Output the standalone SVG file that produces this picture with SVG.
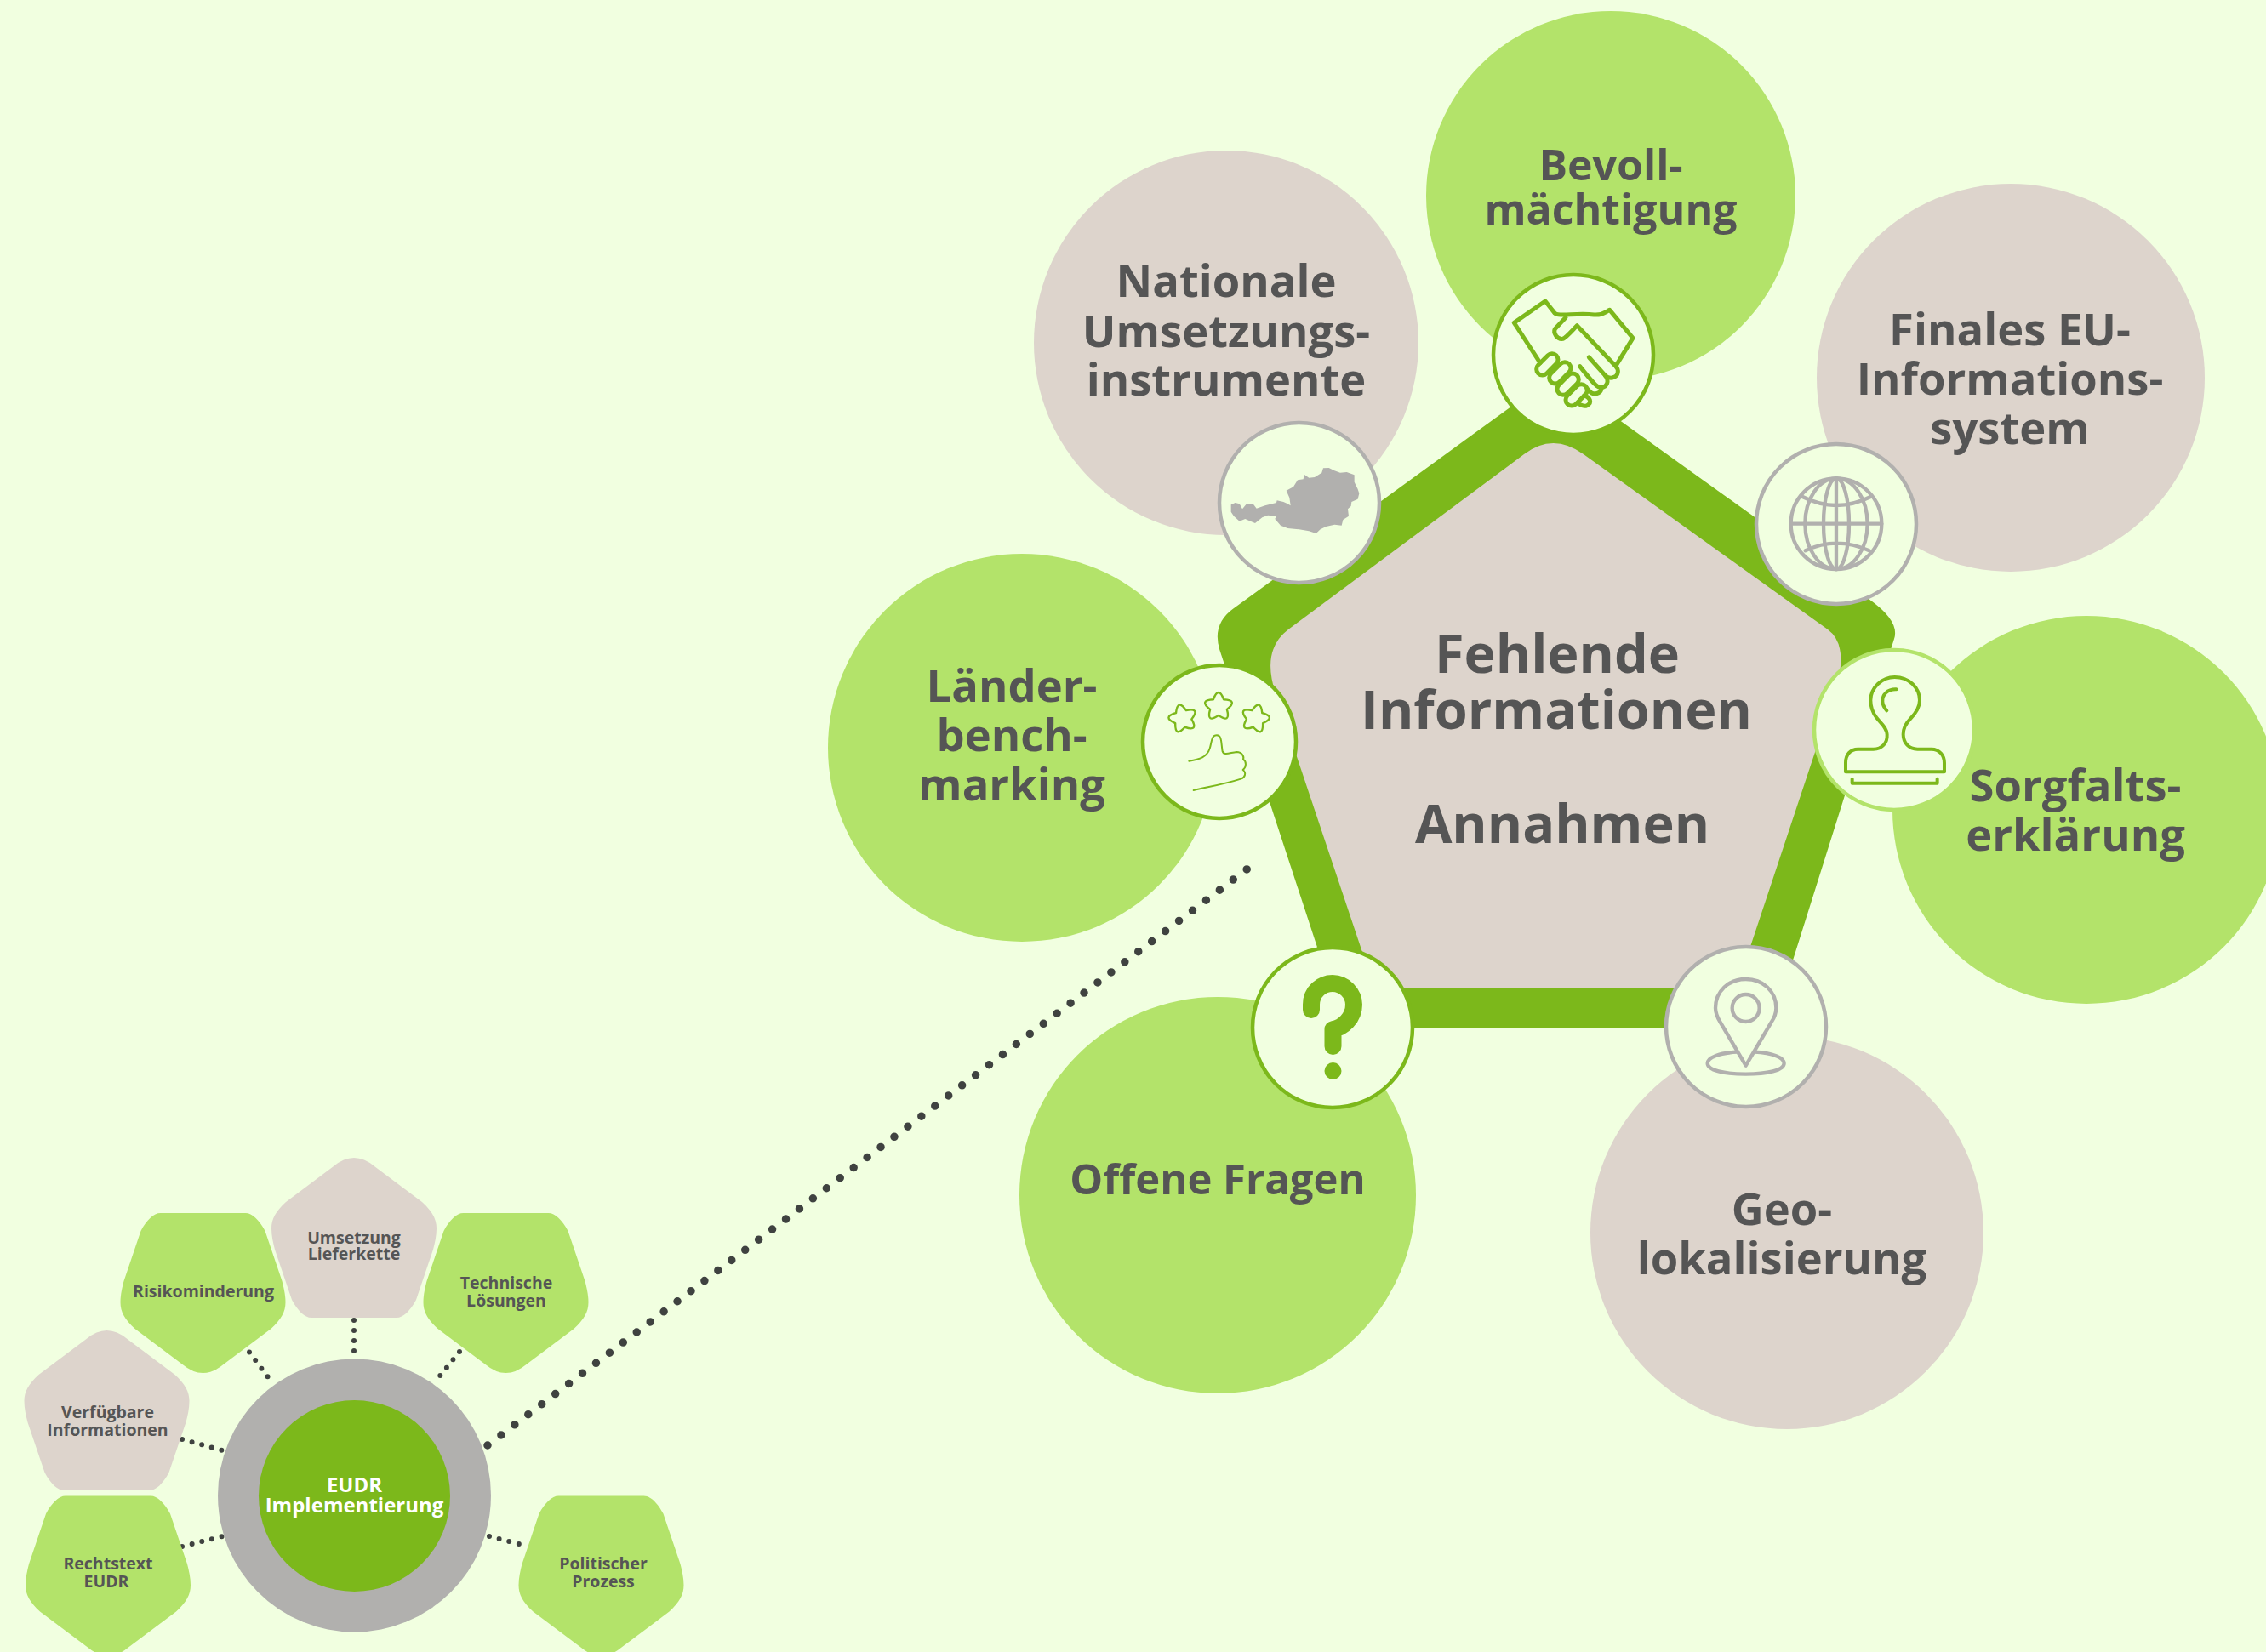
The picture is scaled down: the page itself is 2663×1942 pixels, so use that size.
<svg xmlns="http://www.w3.org/2000/svg" xmlns:xlink="http://www.w3.org/1999/xlink" width="2663" height="1942" viewBox="0 0 2663 1942">
<style>
text{font-family:"Open Sans","Noto Sans","DejaVu Sans",sans-serif;font-weight:700;fill:#555555;text-anchor:middle}
.big{font-size:63px}.lab{font-size:52.5px}.sm{font-size:19.5px}
.w{fill:#fff;font-size:24px}
.lg{fill:#b3e36a}.bg{fill:#ddd4cc}
.ic{fill:#f1ffe0;stroke-width:4.5}
.g{stroke:#7cb81b}.y{stroke:#b1b0ae}.l{stroke:#b3e36a}
.i{fill:none;stroke-linecap:round;stroke-linejoin:round}
.dot{fill:none;stroke:#3f4240;stroke-linecap:round}
.d1{stroke-width:9.5;stroke-dasharray:0 20}
.d2{stroke-width:6;stroke-dasharray:0 12}
</style>
<defs>
<path id="pu" d="M-24,10 Q0,-10 24,10 L80,52 C92,63 97,72 97,83 C97,92 95,100 93,108 L73,167 C66,180 58,188 50,188 L-50,188 C-58,188 -66,180 -73,167 L-93,108 C-95,100 -97,92 -97,83 C-97,72 -92,63 -80,52 Z"/>
<path id="pd" d="M-24,178 Q0,198 24,178 L80,136 C92,125 97,116 97,105 C97,96 95,88 93,80 L73,21 C66,8 58,0 50,0 L-50,0 C-58,0 -66,8 -73,21 L-93,80 C-95,88 -97,96 -97,105 C-97,116 -92,125 -80,136 Z"/>
<path id="star" d="M-15.3,-21 Q0,-62 15.3,-21 Q59,-19.2 24.7,8 Q36.4,50.2 0,26 Q-36.4,50.2 -24.7,8 Q-59,-19.2 -15.3,-21Z"/>
</defs>
<rect width="2663" height="1942" fill="#f1ffe0"/>

<g id="connectors">
<path class="dot d1" d="M573,1699L1481,1010"/>
<path class="dot d2" d="M416,1552V1598"/>
<path class="dot d2" d="M293,1589.5L321,1627"/>
<path class="dot d2" d="M540,1589L510,1626"/>
<path class="dot d2" d="M214,1692L261.5,1705"/>
<path class="dot d2" d="M214,1818L261.5,1806"/>
<path class="dot d2" d="M575,1806L621,1818"/>
</g>

<g id="node-bevollmaechtigung"><circle class="lg" cx="1893" cy="230" r="217"/><text class="lab" x="1893" y="212" style="font-size:50px">Bevoll-</text><text class="lab" x="1893" y="264" style="font-size:50px">mächtigung</text></g>
<g id="node-nationale"><circle class="bg" cx="1441" cy="403" r="226"/><text class="lab" x="1441" y="349">Nationale</text><text class="lab" x="1441" y="408">Umsetzungs-</text><text class="lab" x="1441" y="465">instrumente</text></g>
<g id="node-finales"><circle class="bg" cx="2363" cy="444" r="228"/><text class="lab" x="2362" y="406">Finales EU-</text><text class="lab" x="2362" y="464">Informations-</text><text class="lab" x="2362" y="522">system</text></g>
<g id="node-laender"><circle class="lg" cx="1201" cy="879" r="228"/><text class="lab" x="1189" y="825">Länder-</text><text class="lab" x="1189" y="883">bench-</text><text class="lab" x="1189" y="941">marking</text></g>
<g id="node-sorgfalt"><circle class="lg" cx="2452" cy="952" r="228"/><text class="lab" x="2439" y="942">Sorgfalts-</text><text class="lab" x="2439" y="1000">erklärung</text></g>
<g id="node-offene"><circle class="lg" cx="1431" cy="1405" r="233"/><text class="lab" x="1431" y="1404" style="font-size:49px">Offene Fragen</text></g>
<g id="node-geo"><circle class="bg" cx="2100" cy="1449" r="231"/><text class="lab" x="2094" y="1440">Geo-</text><text class="lab" x="2094" y="1498">lokalisierung</text></g>

<g id="node-center">
<path fill="#7cb81b" d="M1450,715L1828,440L2196,704Q2233,730 2226,751L2082,1208L1579,1208L1434,766Q1423,734 1450,715Z"/>
<path fill="#ddd4cc" d="M1791,534Q1825,508 1861,534L2148,740Q2174,759 2156,815L2041,1161L1615,1161L1499,815Q1482,764 1514,740Z"/>
<text class="big" x="1830" y="791">Fehlende</text><text class="big" x="1829" y="857">Informationen</text><text class="big" x="1836" y="991">Annahmen</text>
</g>

<g id="icon-handshake">
<circle class="ic g" cx="1849" cy="417" r="94"/>
<g class="i g" transform="translate(1740,310) scale(.3333)" stroke-width="15">
<path d="M210,350L118,208L228,132L262,175C275,188 340,172 400,180C430,183 440,170 455,163L537,262L480,355"/>
<path d="M300,190L262,230C255,245 270,268 290,265C300,262 310,250 340,218L475,360C490,375 485,395 470,400C460,405 450,403 440,395L382,330"/>
<path d="M440,395C455,415 445,435 425,437C415,438 405,432 350,362"/>
<path d="M425,437C428,452 410,465 390,455L375,440"/>
<rect x="190" y="334" width="90" height="42" rx="21" transform="rotate(-45 235 355)"/>
<rect x="235" y="364" width="90" height="42" rx="21" transform="rotate(-45 280 385)"/>
<rect x="263" y="404" width="90" height="42" rx="21" transform="rotate(-45 308 425)"/>
<rect x="293" y="442" width="90" height="42" rx="21" transform="rotate(-45 338 463)"/>
<path d="M365,465C385,470 395,490 375,500C365,505 350,498 345,492"/>
</g>
</g>

<g id="icon-austria">
<circle class="ic y" cx="1527" cy="591" r="94"/>
<path fill="#b1b0ae" transform="translate(1430,535) scale(.3333)" d="M50,175L65,168L80,172L90,190L105,172L130,175L140,188L170,178L210,168L212,160L235,165L250,172L260,178L256,150L245,125L270,112L285,88L305,85L308,68L325,80L345,78L370,62L375,46L395,45L415,55L435,62L458,60L485,70L485,95L497,120L502,135L497,155L475,165L473,180L462,190L465,215L445,228L440,248L415,245L385,252L365,262L350,276L325,268L290,262L250,258L225,248L205,225L210,215L180,212L160,220L135,240L115,232L100,225L80,233L60,215L50,200Z"/>
</g>

<g id="icon-globe">
<circle class="ic y" cx="2158" cy="616" r="94"/>
<g class="i y" transform="translate(2050,510) scale(.3333)" stroke-width="13">
<circle cx="324" cy="317" r="160"/>
<ellipse cx="324" cy="317" rx="45" ry="160"/>
<ellipse cx="324" cy="317" rx="110" ry="160"/>
<path d="M324,157V477M164,317H484M205,222Q324,282 445,222M215,412Q324,360 440,412"/>
</g>
</g>

<g id="icon-stamp">
<circle class="ic l" cx="2226" cy="858" r="94"/>
<g class="i g" transform="translate(2120,750) scale(.3333)" stroke-width="12">
<path d="M147,472L147,440C147,410 165,392 190,392L245,392C275,392 295,370 293,340C292,315 270,300 255,280C240,260 235,240 235,220C235,175 275,138 320,138C370,138 408,175 408,220C408,250 390,270 375,285C360,300 350,320 350,340C350,370 370,392 400,392L450,392C478,392 495,415 495,440L495,472Z"/>
<path d="M325,181C295,180 275,200 277,225C278,238 285,248 292,256M170,497L170,512L470,512L470,497"/>
</g>
</g>

<g id="icon-pin">
<circle class="ic y" cx="2052" cy="1207" r="94"/>
<g class="i y" transform="translate(1950,1100) scale(.3333)" stroke-width="13">
<path d="M305,458L215,305C200,280 198,265 198,255C198,195 245,153 305,153C365,153 412,195 412,255C412,270 405,290 395,305Z"/>
<circle cx="305" cy="255" r="48"/>
<path d="M275,410C210,413 170,430 170,450C170,475 230,488 305,488C380,488 440,475 440,450C440,430 400,413 335,410"/>
</g>
</g>

<g id="icon-question">
<circle class="ic g" cx="1566" cy="1208" r="94"/>
<path class="i g" stroke-width="20" d="M1541,1187L1541,1181C1541,1166 1553,1156 1566,1156C1580,1156 1591,1168 1591,1181C1591,1197 1578,1208 1566.5,1210L1566.5,1230"/>
<circle fill="#7cb81b" cx="1566.5" cy="1259" r="10"/>
</g>

<g id="icon-stars">
<circle class="ic g" cx="1433" cy="872" r="90"/>
<g class="i g" transform="translate(1330,770) scale(.3333)" stroke-width="6">
<use xlink:href="#star" href="#star" transform="translate(306,182) scale(1.2)"/>
<use xlink:href="#star" href="#star" transform="translate(180,224) rotate(-14) scale(1.2)"/>
<use xlink:href="#star" href="#star" transform="translate(436,224) rotate(14) scale(1.2)"/>
<path d="M202,374C240,368 265,360 275,330C283,305 280,283 300,283C318,283 315,310 320,340C325,355 345,345 370,342C390,342 397,360 393,368C405,375 405,395 392,405C405,415 400,432 385,437C330,455 270,465 218,477"/>
</g>
</g>

<g id="node-rechtstext"><use xlink:href="#pd" href="#pd" class="lg" transform="translate(127,1758.5)"/><text class="sm" x="127" y="1845">Rechtstext</text><text class="sm" x="125" y="1866">EUDR</text></g>
<g id="node-verfuegbare"><use xlink:href="#pu" href="#pu" class="bg" transform="translate(125.5,1564)"/><text class="sm" x="126.5" y="1667">Verfügbare</text><text class="sm" x="126.5" y="1688">Informationen</text></g>
<g id="node-risiko"><use xlink:href="#pd" href="#pd" class="lg" transform="translate(238.5,1426)"/><text class="sm" x="239" y="1525">Risikominderung</text></g>
<g id="node-umsetzung"><use xlink:href="#pu" href="#pu" class="bg" transform="translate(416,1361)"/><text class="sm" x="416" y="1462">Umsetzung</text><text class="sm" x="416" y="1481">Lieferkette</text></g>
<g id="node-technische"><use xlink:href="#pd" href="#pd" class="lg" transform="translate(594.5,1426)"/><text class="sm" x="595" y="1515">Technische</text><text class="sm" x="595" y="1536">Lösungen</text></g>
<g id="node-politischer"><use xlink:href="#pd" href="#pd" class="lg" transform="translate(706.5,1758.5)"/><text class="sm" x="709" y="1845">Politischer</text><text class="sm" x="709" y="1866">Prozess</text></g>
<g id="node-eudr"><circle fill="#b1b0ae" cx="416.5" cy="1758" r="160.5"/><circle fill="#7cb81b" cx="416.5" cy="1758.5" r="112.5"/><text class="w" x="416.5" y="1754">EUDR</text><text class="w" x="416.5" y="1778">Implementierung</text></g>
</svg>
